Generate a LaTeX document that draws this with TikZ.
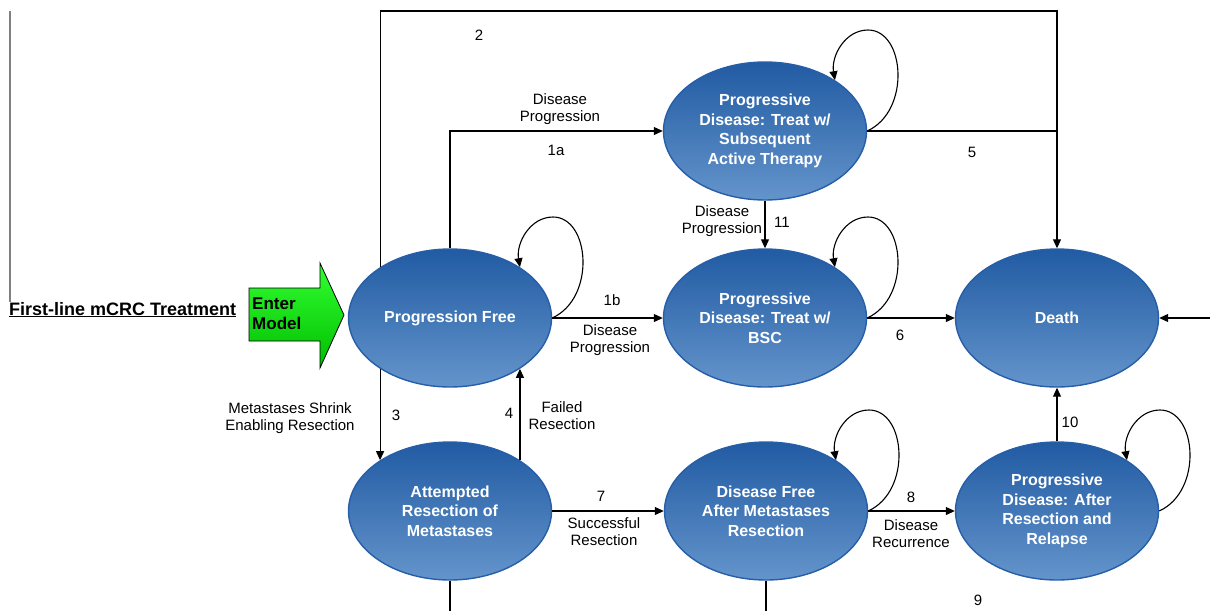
\documentclass[tikz,border=0pt]{standalone}
\usepackage{fontspec}
\setmainfont{Liberation Sans}
\usetikzlibrary{shapes.geometric,arrows.meta,calc}
\definecolor{S}{RGB}{33,91,163}
\definecolor{T}{RGB}{100,148,203}
\definecolor{R}{RGB}{38,94,168}
\definecolor{G}{RGB}{50,255,50}
\definecolor{H}{RGB}{0,190,0}
\tikzstyle{mstate} = [ellipse, draw=R, line width=1.4pt,
top color=S, bottom color=T,
minimum width=203pt, minimum height=138pt, inner sep=0pt,
text=white, align=center, font=\fontsize{16}{19.5}\selectfont\bfseries]
\tikzstyle{lbl} = [align=center, inner sep=0pt, font=\fontsize{15}{17}\selectfont]
\tikzstyle{arrow} = [-{Triangle[length=9pt,width=8pt]}, line width=1.1pt]
\tikzstyle{line} = [line width=1.1pt]

\begin{document}
\begin{tikzpicture}[x=1pt,y=-1pt]
\useasboundingbox (0,0) rectangle (1210,611);
% states
\node[mstate] (PF) at (450,318) {Progression Free};
\node[mstate] (PDA) at (765,131) {Progressive\\Disease: Treat w/\\Subsequent\\Active Therapy};
\node[mstate] (BSC) at (765,318) {Progressive\\Disease: Treat w/\\BSC};
\node[mstate] (Death) at (1057,318) {Death};
\node[mstate] (ARM) at (450,511) {Attempted\\Resection of\\Metastases};
\node[mstate] (DF) at (766,511) {Disease Free\\After Metastases\\Resection};
\node[mstate] (PDR) at (1057,511) {Progressive\\Disease: After\\Resection and\\Relapse};
% entry
\path[draw=black, line width=0.8pt, top color=G, bottom color=H]
  (249,288) -- (320,288) -- (320,263) -- (344,315) -- (320,368)
  -- (320,341) -- (249,341) -- cycle;
\node[font=\fontsize{17}{20}\selectfont\bfseries, align=left, anchor=west,
  inner sep=0pt] (enterlbl) at (252,314) {Enter\\Model};
\node[font=\fontsize{18}{20}\selectfont\bfseries, anchor=base west,
  inner sep=0pt] (title) at (9,315) {\underline{First-line mCRC Treatment}};
\coordinate (ltop) at (10,11);
\coordinate (lbot) at (10,302);
\draw[gray, line width=1.1pt] (ltop) -- (lbot);
% self loops
\foreach \n in {PF,PDA,BSC,DF,PDR}
  \draw[arrow] (\n.east) .. controls +(44,-20) and +(37,0) .. ($(\n.center)+(103,-101)$)
    .. controls +(-23,0) and +(-4,-24) .. (\n.36);
% transitions
\coordinate (top) at (0,11);
\draw[arrow] (PF.144) |- (top -| Death.north) -- (Death.north);
\draw[line] (PDA.east) -- (PDA.east -| Death.north);
\draw[arrow] (PF.north) |- (PDA.west);
\draw[arrow] (PF.east) -- (BSC.west);
\draw[arrow] (PDA.south) -- (BSC.north);
\draw[arrow] (BSC.east) -- (Death.west);
\draw[arrow] (PF.216) -- (ARM.144);
\draw[arrow] (ARM.36) -- (PF.324);
\draw[arrow] (ARM.east) -- (DF.west);
\draw[arrow] (DF.east) -- (PDR.west);
\draw[arrow] (PDR.north) -- (Death.south);
\coordinate (rin) at (1210,318);
\draw[arrow] (rin) -- (Death.east);
\coordinate (bot) at (0,611);
\draw[line] (ARM.south) -- (ARM.south |- bot);
\draw[line] (DF.south) -- (DF.south |- bot);
% labels
\node[lbl] (l2) at (479,35) {2};
\node[lbl] (l1at) at (560,109) {Disease\\Progression};
\node[lbl] (l1a) at (556,150) {1a};
\node[lbl] (l5) at (972,152) {5};
\node[lbl] (l11t) at (722,221) {Disease\\Progression};
\node[lbl] (l11) at (782,222) {11};
\node[lbl] (l1b) at (612,300) {1b};
\node[lbl] (l1bt) at (610,340) {Disease\\Progression};
\node[lbl] (l6) at (900,335) {6};
\node[lbl] (l3) at (396,415) {3};
\node[lbl] (l3t) at (290,418) {Metastases Shrink\\Enabling Resection};
\node[lbl] (l4) at (509,413) {4};
\node[lbl] (l4t) at (562,416) {Failed\\Resection};
\node[lbl] (l7) at (601,496) {7};
\node[lbl] (l7t) at (604,532) {Successful\\Resection};
\node[lbl] (l8) at (911,497) {8};
\node[lbl] (l8t) at (911,534) {Disease\\Recurrence};
\node[lbl] (l10) at (1070,422) {10};
\node[lbl] (l9) at (978,600) {9};
\end{tikzpicture}
\end{document}
